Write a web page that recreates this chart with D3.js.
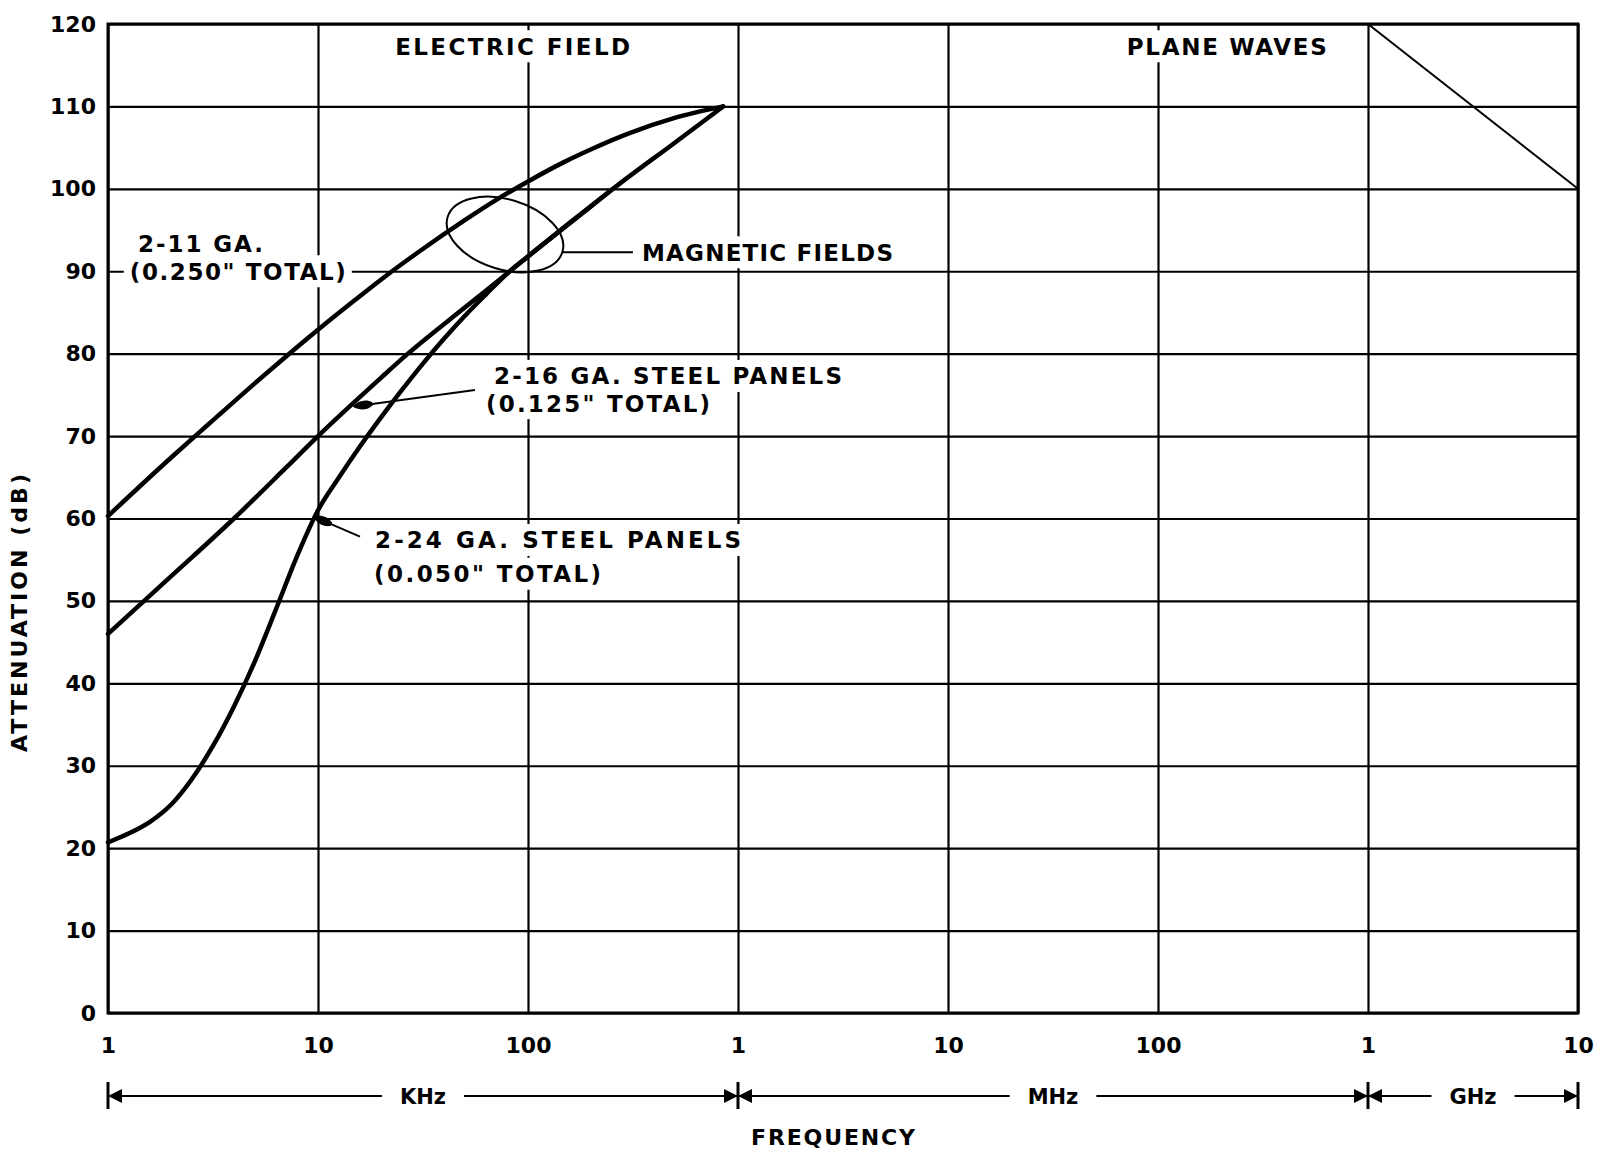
<!DOCTYPE html>
<html>
<head>
<meta charset="utf-8">
<script src="https://cdn.jsdelivr.net/npm/d3@7"></script>
<style>
  body { margin: 0; background: #fff; }
  svg { display: block; font-family: "DejaVu Sans", sans-serif; font-weight: bold; }
</style>
</head>
<body>
<div id="chart"></div>
<script>
/* ---------------------- Data ---------------------- */
// frequency in kHz, attenuation in dB
var freq11 = [1, 2, 3, 5, 7, 10, 15, 20, 30, 50, 70, 100, 150, 200, 300, 500, 850];
var db11   = [60.3, 67.4, 71.4, 76.4, 79.6, 82.9, 86.5, 89.0, 92.3, 96.2, 98.6, 100.9, 103.3, 104.8, 106.7, 108.6, 110];

var freq16 = [1, 2, 3.98, 7, 10, 20, 26.8, 50, 82, 100, 200, 254, 500, 850];
var db16   = [46.0, 53.0, 60, 66.1, 70, 77.1, 80, 85.6, 90, 91.8, 97.9, 100, 105.6, 110];

var freq24 = [1, 1.26, 1.585, 2, 2.51, 3.16, 3.98, 5.01, 6.31, 7.94, 10, 12.6, 15.8, 20, 25.1, 31.6, 39.8, 50.1, 63.1, 79.4, 100, 158.5, 254];
var db24   = [20.7, 21.8, 23.2, 25.3, 28.4, 32.4, 37.2, 42.7, 49.0, 55.4, 61.0, 65.0, 68.7, 72.3, 75.6, 78.8, 81.8, 84.6, 87.2, 89.7, 91.8, 95.9, 100];

var freqPlane = [1e6, 1e7];
var dbPlane   = [120, 100];

var yTicks = d3.range(0, 121, 10);
var xTicks = [1, 10, 100, 1e3, 1e4, 1e5, 1e6, 1e7];
var xTickLabels = ["1", "10", "100", "1", "10", "100", "1", "10"];

var bandNames = ["KHz", "MHz", "GHz"];
var bandStart = [1, 1e3, 1e6];
var bandEnd   = [1e3, 1e6, 1e7];

/* ------------------- Annotations ------------------- */
// anchored in data space (kHz, dB); w = drawn text length
var notes = [
    {t: "ELECTRIC FIELD", f: 23.3, db: 117.3, w: 235},
    {t: "PLANE WAVES", f: 71000, db: 117.3, w: 200},
    {t: "2-11 GA.", f: 1.39, db: 93.4, w: 125},
    {t: "(0.250\" TOTAL)", f: 1.27, db: 90, w: 216},
    {t: "MAGNETIC FIELDS", f: 349, db: 92.3, w: 251},
    {t: "2-16 GA. STEEL PANELS", f: 68.9, db: 77.3, w: 348},
    {t: "(0.125\" TOTAL)", f: 63.1, db: 74.0, w: 224},
    {t: "2-24 GA. STEEL PANELS", f: 18.7, db: 57.4, w: 366},
    {t: "(0.050\" TOTAL)", f: 18.5, db: 53.3, w: 227}
];
var arrows = [
    {f0: 55.9, db0: 75.6, f1: 14.8, db1: 73.6},
    {f0: 15.85, db0: 57.8, f1: 9.6, db1: 60.2}
];

/* ---------------------- Setup ---------------------- */
var W = 1598, H = 1158;
var margin = {top: 24, left: 108};
var width = 1470, height = 989;

var svg = d3.select("#chart").append("svg")
    .attr("width", W)
    .attr("height", H);

var defs = svg.append("defs");
defs.append("marker")
    .attr("id", "tip")
    .attr("markerUnits", "userSpaceOnUse")
    .attr("viewBox", "0 -6 20 12")
    .attr("refX", 19).attr("refY", 0)
    .attr("markerWidth", 20).attr("markerHeight", 12)
    .attr("orient", "auto")
    .append("path")
    .attr("d", "M0,-1.5 C6,-6 14,-5 20,0 C14,5 6,6 0,1.5 Z")
    .attr("fill", "#000");

var g = svg.append("g")
    .attr("transform", `translate(${margin.left},${margin.top})`);

var x = d3.scaleLog().domain([1, 1e7]).range([0, width]);
var y = d3.scaleLinear().domain([0, 120]).range([height, 0]);

/* ---------------------- Grid / axes ---------------------- */
var yAxis = d3.axisLeft(y)
    .tickValues(yTicks)
    .tickSize(-width)
    .tickPadding(12)
    .tickFormat(d3.format("d"));

var xAxis = d3.axisBottom(x)
    .tickValues(xTicks)
    .tickSize(-height)
    .tickPadding(24)
    .tickFormat((d, i) => xTickLabels[i]);

var gy = g.append("g").call(yAxis);
var gx = g.append("g").attr("transform", `translate(0,${height})`).call(xAxis);

[gx, gy].forEach(a => {
    a.select(".domain").remove();
    a.selectAll("line").attr("stroke", "#000").attr("stroke-width", 2.2);
    a.selectAll("text")
        .attr("fill", "#000")
        .style("font-size", "22px")
        .style("font-family", "DejaVu Sans, sans-serif")
        .style("font-weight", "bold");
});

/* ---------------------- Annotations ---------------------- */
var gNotes = g.append("g");
notes.forEach(n => {
    var cy = y(n.db);
    gNotes.append("rect")
        .attr("fill", "#fff")
        .attr("x", x(n.f) - 6)
        .attr("y", cy - 16)
        .attr("width", n.w + 12)
        .attr("height", 32);
    gNotes.append("text")
        .attr("x", x(n.f))
        .attr("y", cy + 8.5)
        .attr("textLength", n.w)
        .attr("lengthAdjust", "spacing")
        .style("font-size", "23px")
        .text(n.t);
});

// leader arrows
g.append("g").selectAll("line")
    .data(arrows)
    .enter()
    .append("line")
    .attr("x1", d => x(d.f0)).attr("y1", d => y(d.db0))
    .attr("x2", d => x(d.f1)).attr("y2", d => y(d.db1))
    .attr("stroke", "#000")
    .attr("stroke-width", 2)
    .attr("marker-end", "url(#tip)");

// magnetic fields ring and its leader
var ringF = 77.7, ringDb = 94.46;
g.append("ellipse")
    .attr("transform", `translate(${x(ringF)},${y(ringDb)}) rotate(17)`)
    .attr("rx", 60).attr("ry", 35)
    .attr("fill", "none")
    .attr("stroke", "#000")
    .attr("stroke-width", 2);
g.append("line")
    .attr("x1", x(146.8)).attr("x2", x(316))
    .attr("y1", y(92.3)).attr("y2", y(92.3))
    .attr("stroke", "#000")
    .attr("stroke-width", 2);

/* ---------------------- Curves ---------------------- */
function zip(fs, ds) { return fs.map((f, i) => ({f: f, db: ds[i]})); }

var line = d3.line()
    .x(d => x(d.f))
    .y(d => y(d.db))
    .curve(d3.curveMonotoneX);

[zip(freq11, db11), zip(freq16, db16), zip(freq24, db24)].forEach(s => {
    g.append("path")
        .datum(s)
        .attr("d", line)
        .attr("fill", "none")
        .attr("stroke", "#000")
        .attr("stroke-width", 4.5)
        .attr("stroke-linecap", "round")
        .attr("stroke-linejoin", "round");
});

g.append("path")
    .datum(zip(freqPlane, dbPlane))
    .attr("d", d3.line().x(d => x(d.f)).y(d => y(d.db)))
    .attr("fill", "none")
    .attr("stroke", "#000")
    .attr("stroke-width", 2);

// frame
g.append("rect")
    .attr("width", width)
    .attr("height", height)
    .attr("fill", "none")
    .attr("stroke", "#000")
    .attr("stroke-width", 3);

/* ---------------------- Frequency bands ---------------------- */
var bandY = height + 83;
var gBand = g.append("g");
bandNames.forEach((name, i) => {
    var x0 = x(bandStart[i]), x1 = x(bandEnd[i]), xm = (x0 + x1) / 2;
    var t = gBand.append("text")
        .attr("x", xm)
        .attr("y", bandY + 8)
        .attr("text-anchor", "middle")
        .style("font-size", "21px")
        .text(name);
    var tw = t.node().getComputedTextLength();
    gBand.append("line")
        .attr("x1", x0).attr("x2", xm - tw / 2 - 18)
        .attr("y1", bandY).attr("y2", bandY)
        .attr("stroke", "#000").attr("stroke-width", 2);
    gBand.append("line")
        .attr("x1", xm + tw / 2 + 18).attr("x2", x1)
        .attr("y1", bandY).attr("y2", bandY)
        .attr("stroke", "#000").attr("stroke-width", 2);
    // arrowheads
    gBand.append("path")
        .attr("d", `M${x0},${bandY} L${x0 + 14},${bandY - 7} L${x0 + 14},${bandY + 7} Z`)
        .attr("fill", "#000");
    gBand.append("path")
        .attr("d", `M${x1},${bandY} L${x1 - 14},${bandY - 7} L${x1 - 14},${bandY + 7} Z`)
        .attr("fill", "#000");
});
gBand.selectAll(".edge")
    .data([1, 1e3, 1e6, 1e7])
    .enter()
    .append("line")
    .attr("class", "edge")
    .attr("x1", d => x(d)).attr("x2", d => x(d))
    .attr("y1", bandY - 14).attr("y2", bandY + 13)
    .attr("stroke", "#000")
    .attr("stroke-width", 3);

/* ---------------------- Axis titles ---------------------- */
g.append("text")
    .attr("x", 833 - margin.left)
    .attr("y", 1145 - margin.top)
    .attr("text-anchor", "middle")
    .attr("textLength", 164)
    .attr("lengthAdjust", "spacing")
    .style("font-size", "22px")
    .text("FREQUENCY");

svg.append("text")
    .attr("transform", "translate(27,613) rotate(-90)")
    .attr("text-anchor", "middle")
    .attr("textLength", 278)
    .attr("lengthAdjust", "spacing")
    .style("font-size", "22px")
    .text("ATTENUATION (dB)");
</script>
</body>
</html>
